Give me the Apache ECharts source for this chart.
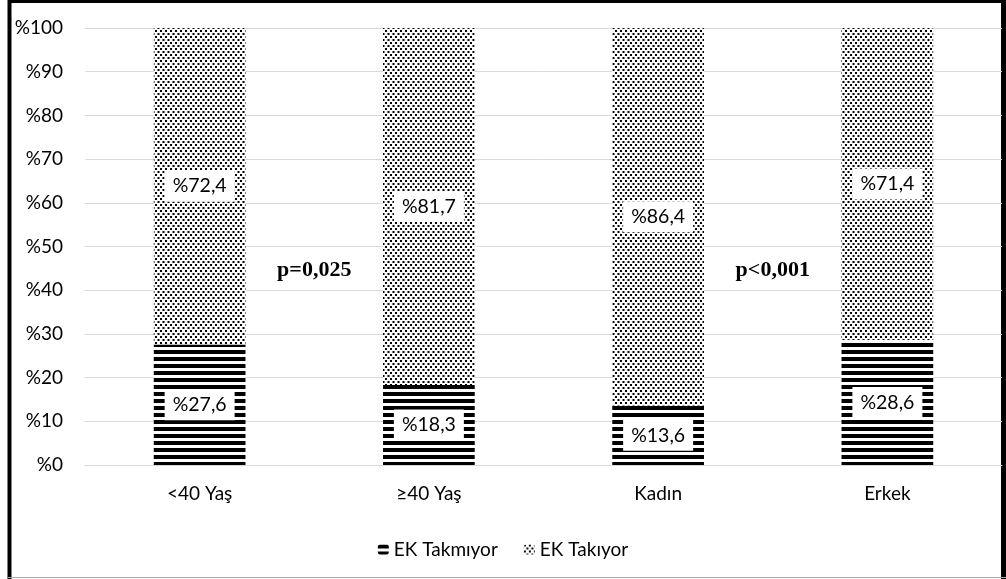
<!DOCTYPE html>
<html>
<head>
<meta charset="utf-8">
<script src="https://cdn.jsdelivr.net/npm/echarts@6/dist/echarts.min.js"></script>
<style>
  html, body { margin: 0; padding: 0; background: #fff; }
  #chart { width: 1006px; height: 579px; }
</style>
</head>
<body>
<div id="chart"></div>
<script>
// Categories and shares (%) of the two groups
const categories = ['<40 Yaş', '≥40 Yaş', 'Kadın', 'Erkek'];
const takmiyor = [27.6, 18.3, 13.6, 28.6];
const takiyor = [72.4, 81.7, 86.4, 71.4];
const seriesNames = ['EK Takmıyor', 'EK Takıyor'];
const pValues = ['p=0,025', 'p<0,001'];
const yTicks = [0, 10, 20, 30, 40, 50, 60, 70, 80, 90, 100];

// Horizontal black stripes
function stripePattern() {
  const c = document.createElement('canvas');
  c.width = 8; c.height = 7;
  const g = c.getContext('2d');
  g.fillStyle = '#fff'; g.fillRect(0, 0, 8, 7);
  g.fillStyle = '#000'; g.fillRect(0, 0, 8, 4);
  return c;
}
// Fine dot grid with staggered rows
function dotPattern() {
  const c = document.createElement('canvas');
  c.width = 5; c.height = 6;
  const g = c.getContext('2d');
  g.fillStyle = '#fff'; g.fillRect(0, 0, 5, 6);
  g.fillStyle = '#000';
  g.fillRect(0, 0, 2, 2);
  g.fillRect(2.5, 3, 2, 2);
  return c;
}

const fmt = v => '%' + String(v).replace('.', ',');
const labelStyle = {
  show: true,
  position: 'inside',
  formatter: p => fmt(p.value),
  backgroundColor: '#fff',
  padding: [6, 8, 5, 8],
  color: '#000',
  fontFamily: 'Lato',
  fontSize: 19.5
};

// Frame: heavy black on left/top/right, thin grey along the bottom
const frame = [
  { type: 'line', shape: { x1: 9.5, y1: 0, x2: 9.5, y2: 579 }, style: { stroke: '#000', lineWidth: 4 }, silent: true },
  { type: 'line', shape: { x1: 8, y1: 1.5, x2: 1006, y2: 1.5 }, style: { stroke: '#000', lineWidth: 3 }, silent: true },
  { type: 'line', shape: { x1: 1003.5, y1: 0, x2: 1003.5, y2: 579 }, style: { stroke: '#000', lineWidth: 5 }, silent: true },
  { type: 'line', shape: { x1: 8, y1: 577.5, x2: 1006, y2: 577.5 }, style: { stroke: '#a6a6a6', lineWidth: 1 }, silent: true }
];

const chart = echarts.init(document.getElementById('chart'), null, { renderer: 'canvas' });
chart.setOption({
  animation: false,
  backgroundColor: '#fff',
  grid: { left: 85, right: 4, top: 28, bottom: 114 },
  legend: {
    data: seriesNames,
    top: 535,
    left: 'center',
    itemWidth: 11,
    itemHeight: 10,
    itemGap: 26,
    textStyle: { fontFamily: 'Lato', fontSize: 19, color: '#000' }
  },
  xAxis: {
    type: 'category',
    data: categories,
    axisLine: { lineStyle: { color: '#d9d9d9' } },
    axisTick: { show: false },
    axisLabel: { fontFamily: 'Lato', fontSize: 19, color: '#000', margin: 19 }
  },
  yAxis: {
    type: 'value',
    min: yTicks[0],
    max: yTicks[yTicks.length - 1],
    interval: 10,
    axisLabel: { formatter: v => '%' + v, fontFamily: 'Lato', fontSize: 19, color: '#000', margin: 22 },
    splitLine: { lineStyle: { color: '#d9d9d9' } },
    axisLine: { show: false },
    axisTick: { show: false }
  },
  series: [
    {
      name: seriesNames[0],
      type: 'bar',
      stack: 'total',
      barWidth: '40%',
      data: takmiyor,
      itemStyle: { color: { image: stripePattern(), repeat: 'repeat' } },
      label: labelStyle
    },
    {
      name: seriesNames[1],
      type: 'bar',
      stack: 'total',
      barWidth: '40%',
      data: takiyor,
      itemStyle: { color: { image: dotPattern(), repeat: 'repeat' } },
      label: labelStyle
    }
  ],
  graphic: frame
});

// p-value annotations placed between category pairs at the 44.6% level
function placePValues() {
  const xs = [0.5, 2.5].map(i => {
    const a = chart.convertToPixel({ xAxisIndex: 0 }, Math.floor(i));
    const b = chart.convertToPixel({ xAxisIndex: 0 }, Math.ceil(i));
    return (a + b) / 2;
  });
  const y = chart.convertToPixel({ yAxisIndex: 0 }, 44.6);
  chart.setOption({
    graphic: frame.concat(pValues.map((t, i) => ({
      type: 'text',
      x: xs[i], y: y,
      style: {
        text: t,
        fontFamily: 'Liberation Serif',
        fontWeight: 'bold',
        fontSize: 22,
        fill: '#000',
        align: 'center',
        verticalAlign: 'middle'
      }
    })))
  });
}
placePValues();
</script>
</body>
</html>
